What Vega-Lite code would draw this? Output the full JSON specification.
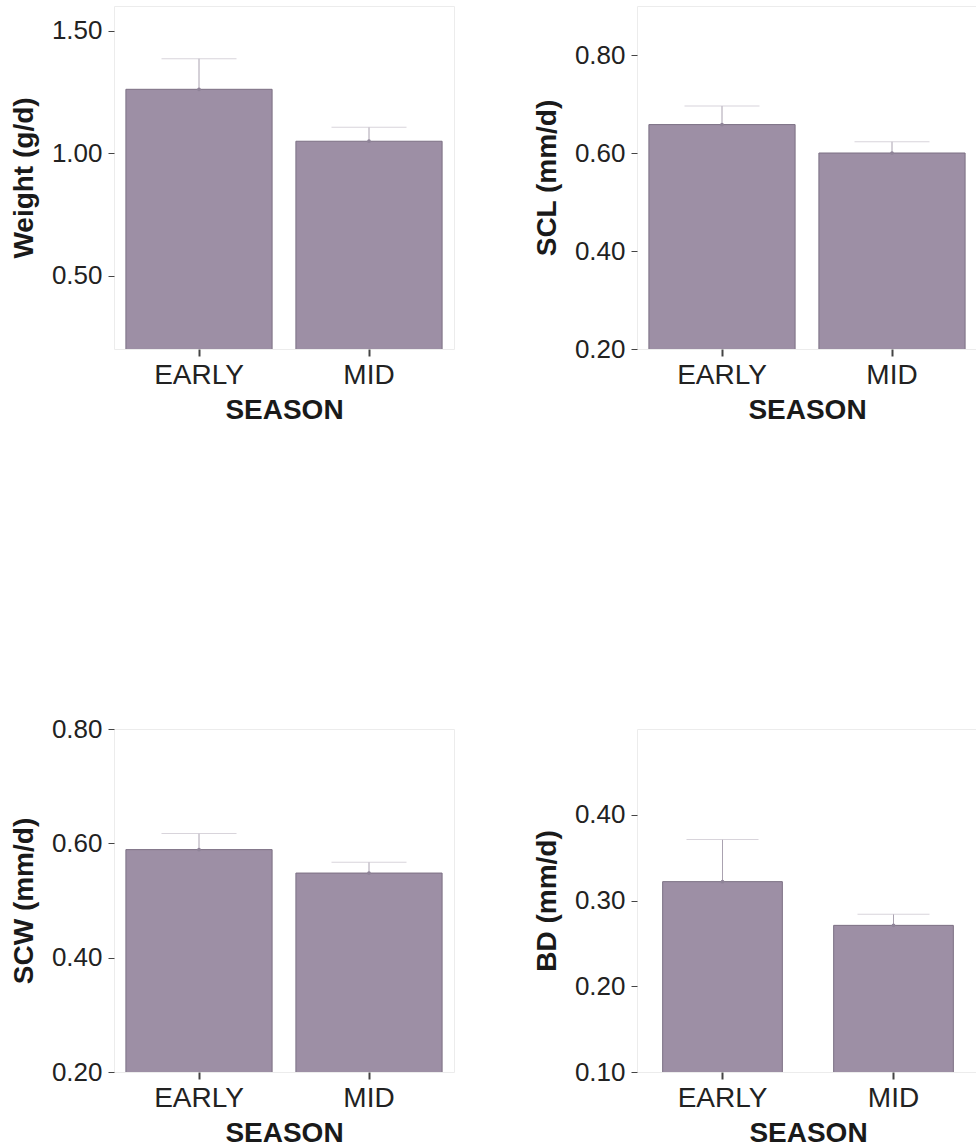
{
  "$schema": "https://vega.github.io/schema/vega-lite/v6.json",
  "padding": {"top": 5, "left": 9, "right": 0, "bottom": 0},
  "background": "white",
  "columns": 2,
  "bounds": "flush",
  "spacing": {"row": 380, "column": 183},
  "datasets": {
    "weight": [
      {"season": "EARLY", "mean": 1.26, "upper": 1.385},
      {"season": "MID", "mean": 1.048, "upper": 1.105}
    ],
    "scl": [
      {"season": "EARLY", "mean": 0.658, "upper": 0.696},
      {"season": "MID", "mean": 0.600, "upper": 0.623}
    ],
    "scw": [
      {"season": "EARLY", "mean": 0.589, "upper": 0.617},
      {"season": "MID", "mean": 0.548, "upper": 0.567}
    ],
    "bd": [
      {"season": "EARLY", "mean": 0.322, "upper": 0.371},
      {"season": "MID", "mean": 0.271, "upper": 0.284}
    ]
  },
  "concat": [
    {
      "width": 340, "height": 343,
      "data": {"name": "weight"},
      "encoding": {
        "x": {"field": "season", "type": "nominal", "title": "SEASON", "scale": {"paddingInner": 0.14, "paddingOuter": 0.07}},
        "y": {"field": "mean", "type": "quantitative", "title": "Weight (g/d)", "scale": {"domain": [0.2, 1.6], "nice": false, "zero": false}, "axis": {"values": [0.5, 1.0, 1.5], "format": ".2f"}}
      },
      "layer": [
        {"mark": {"type": "bar", "color": "#9d8fa5", "stroke": "#7c7084", "strokeWidth": 1, "clip": true}},
        {"mark": {"type": "rule", "color": "#aaa2b0", "strokeWidth": 1}, "encoding": {"y2": {"field": "upper"}}},
        {"mark": {"type": "tick", "color": "#c8c2cc", "size": 75, "thickness": 1}, "encoding": {"y": {"field": "upper", "type": "quantitative"}}},
        {"mark": {"type": "point", "filled": true, "color": "#8f8498", "size": 14, "opacity": 1}}
      ]
    },
    {
      "width": 340, "height": 343,
      "data": {"name": "scl"},
      "encoding": {
        "x": {"field": "season", "type": "nominal", "title": "SEASON", "scale": {"paddingInner": 0.14, "paddingOuter": 0.07}},
        "y": {"field": "mean", "type": "quantitative", "title": "SCL (mm/d)", "scale": {"domain": [0.2, 0.9], "nice": false, "zero": false}, "axis": {"values": [0.2, 0.4, 0.6, 0.8], "format": ".2f"}}
      },
      "layer": [
        {"mark": {"type": "bar", "color": "#9d8fa5", "stroke": "#7c7084", "strokeWidth": 1, "clip": true}},
        {"mark": {"type": "rule", "color": "#aaa2b0", "strokeWidth": 1}, "encoding": {"y2": {"field": "upper"}}},
        {"mark": {"type": "tick", "color": "#c8c2cc", "size": 75, "thickness": 1}, "encoding": {"y": {"field": "upper", "type": "quantitative"}}},
        {"mark": {"type": "point", "filled": true, "color": "#8f8498", "size": 14, "opacity": 1}}
      ]
    },
    {
      "width": 340, "height": 343,
      "data": {"name": "scw"},
      "encoding": {
        "x": {"field": "season", "type": "nominal", "title": "SEASON", "scale": {"paddingInner": 0.14, "paddingOuter": 0.07}},
        "y": {"field": "mean", "type": "quantitative", "title": "SCW (mm/d)", "scale": {"domain": [0.2, 0.8], "nice": false, "zero": false}, "axis": {"values": [0.2, 0.4, 0.6, 0.8], "format": ".2f"}}
      },
      "layer": [
        {"mark": {"type": "bar", "color": "#9d8fa5", "stroke": "#7c7084", "strokeWidth": 1, "clip": true}},
        {"mark": {"type": "rule", "color": "#aaa2b0", "strokeWidth": 1}, "encoding": {"y2": {"field": "upper"}}},
        {"mark": {"type": "tick", "color": "#c8c2cc", "size": 75, "thickness": 1}, "encoding": {"y": {"field": "upper", "type": "quantitative"}}},
        {"mark": {"type": "point", "filled": true, "color": "#8f8498", "size": 14, "opacity": 1}}
      ]
    },
    {
      "width": 342, "height": 343,
      "data": {"name": "bd"},
      "encoding": {
        "x": {"field": "season", "type": "nominal", "title": "SEASON", "scale": {"paddingInner": 0.3, "paddingOuter": 0.15}},
        "y": {"field": "mean", "type": "quantitative", "title": "BD (mm/d)", "scale": {"domain": [0.1, 0.5], "nice": false, "zero": false}, "axis": {"values": [0.1, 0.2, 0.3, 0.4], "format": ".2f"}}
      },
      "layer": [
        {"mark": {"type": "bar", "color": "#9d8fa5", "stroke": "#7c7084", "strokeWidth": 1, "clip": true}},
        {"mark": {"type": "rule", "color": "#aaa2b0", "strokeWidth": 1}, "encoding": {"y2": {"field": "upper"}}},
        {"mark": {"type": "tick", "color": "#c8c2cc", "size": 72, "thickness": 1}, "encoding": {"y": {"field": "upper", "type": "quantitative"}}},
        {"mark": {"type": "point", "filled": true, "color": "#8f8498", "size": 14, "opacity": 1}}
      ]
    }
  ],
  "config": {
    "font": "Liberation Sans",
    "view": {"stroke": "#ececec", "strokeWidth": 1},
    "axis": {
      "grid": false,
      "domain": false,
      "labelFont": "Liberation Sans",
      "labelFontSize": 26,
      "labelColor": "#222222",
      "titleFont": "Liberation Sans",
      "titleFontSize": 28,
      "titleFontWeight": "bold",
      "titleColor": "#1a1a1a",
      "tickColor": "#444444"
    },
    "axisX": {"labelAngle": 0, "labelFontSize": 28, "tickSize": 7, "tickWidth": 2, "labelPadding": 5, "titlePadding": 7},
    "axisY": {"tickSize": 6, "tickWidth": 1, "labelPadding": 6, "titlePadding": 13}
  }
}
